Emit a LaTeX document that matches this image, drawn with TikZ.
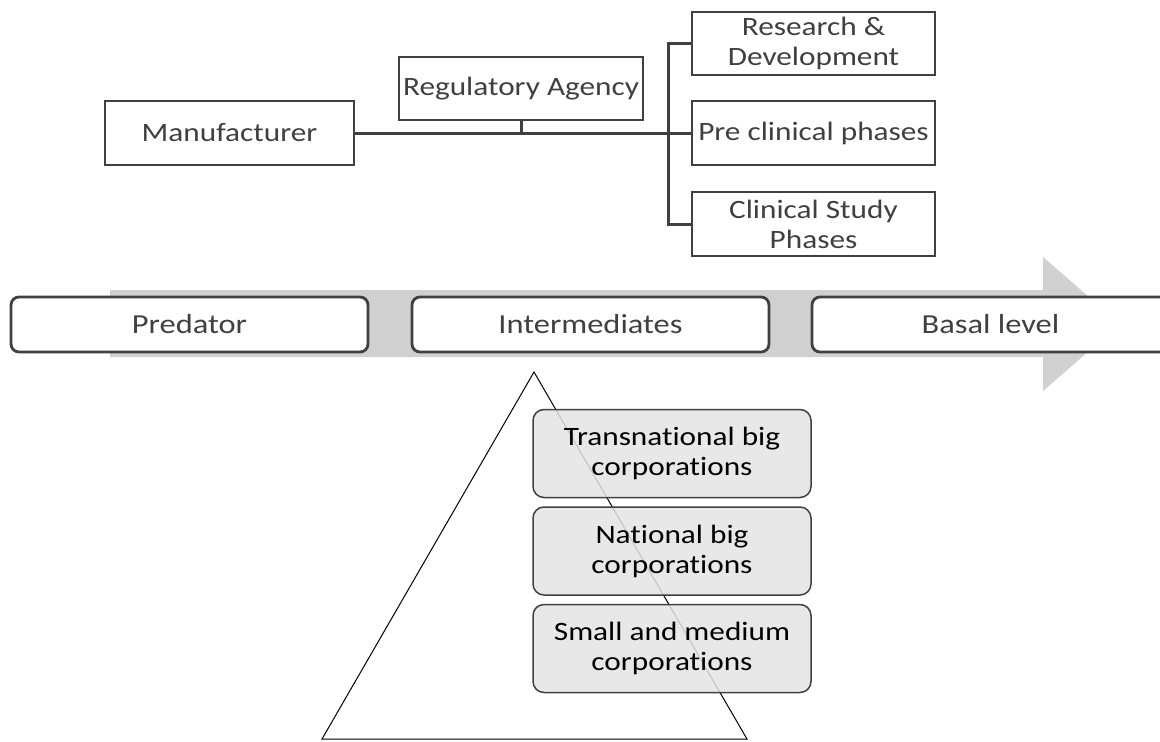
\documentclass[tikz,border=0pt]{standalone}
\usepackage{fontspec}
\setmainfont{Carlito}[Ligatures=NoCommon]
\newcommand\sx[1]{\scalebox{1.18}[1]{#1}}
\definecolor{boxline}{RGB}{64,64,64}
\definecolor{boxtext}{RGB}{64,64,64}
\definecolor{arrowgray}{RGB}{208,208,208}
\definecolor{corpfill}{RGB}{228,228,228}
\tikzset{
  sqbox/.style={draw=boxline, line width=2.8pt, fill=white, text=boxtext, align=center,
    inner sep=0pt, font=\fontsize{26.5}{30}\selectfont},
  rndbox/.style={draw=boxline, line width=2.8pt, fill=white, rounded corners=8pt, text=boxtext,
    align=center, inner sep=0pt, minimum width=357pt, minimum height=55pt, font=\fontsize{27.5}{30}\selectfont},
  corpbox/.style={draw=boxline, line width=1.5pt, fill=corpfill, fill opacity=0.85, text opacity=1,
    rounded corners=11pt, text=black, align=center, inner sep=0pt, minimum width=278pt,
    minimum height=88pt, font=\fontsize{26.5}{30}\selectfont},
  conn/.style={draw=boxline, line width=3pt},
}
\begin{document}
\begin{tikzpicture}[x=1pt,y=-1pt]
\useasboundingbox (0,0) rectangle (1160,742);
\clip (0,0) rectangle (1160,742);
% top hierarchy
\node[sqbox, minimum width=249pt, minimum height=64pt] (mfr) at (229.5,133) {\sx{Manufacturer}};
\node[sqbox, minimum width=244pt, minimum height=63pt] (reg) at (521,88.5) {\sx{Regulatory Agency}};
\node[sqbox, minimum width=243pt, minimum height=63pt] (rd) at (813.5,43.5) {\sx{Research \&}\\\sx{Development}};
\node[sqbox, minimum width=243pt, minimum height=64pt] (pre) at (813.5,133) {\sx{Pre clinical phases}};
\node[sqbox, minimum width=243pt, minimum height=64pt] (cli) at (813.5,224) {\sx{Clinical Study}\\\sx{Phases}};
\coordinate (bus) at (668,133);
\draw[conn] (mfr.east) -- (pre.west);
\draw[conn] (reg.south) -- (reg.south |- mfr.east);
\draw[conn] (rd.west) -| (bus) |- (cli.west);
% big arrow
\fill[arrowgray] (110,290) -- (1043,290) -- (1043,257) -- (1120,324) -- (1043,391) -- (1043,357) -- (110,357) -- cycle;
\node[rndbox] (pred) at (189.5,324.5) {\sx{Predator}};
\node[rndbox] (inter) at (590.5,324.5) {\sx{Intermediates}};
\node[rndbox] (basal) at (990.5,324.5) {\sx{Basal level}};
% pyramid
\coordinate (apex) at (534,372);
\coordinate (bl) at (322,739);
\coordinate (br) at (747,739);
\draw[black, line width=1pt] (apex) -- (bl) -- (br) -- cycle;
\node[corpbox] (trans) at (672,453.5) {\sx{Transnational big}\\\sx{corporations}};
\node[corpbox] (nat) at (672,551) {\sx{National big}\\\sx{corporations}};
\node[corpbox] (sme) at (672,648.5) {\sx{Small and medium}\\\sx{corporations}};
\end{tikzpicture}
\end{document}
